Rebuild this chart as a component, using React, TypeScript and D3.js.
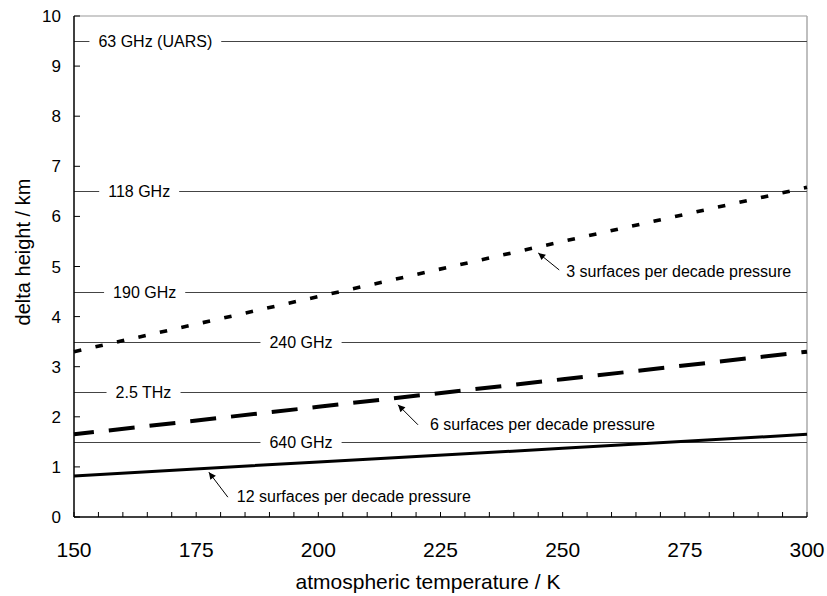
import React from "react";
import * as d3 from "d3";

// Atmospheric temperature (K) and vertical resolution for each sampling density
const temperatures = [150, 200, 250, 300];
const res12 = [0.82, 1.1, 1.37, 1.65];
const res6 = [1.65, 2.2, 2.75, 3.3];
const res3 = [3.3, 4.4, 5.5, 6.58];

// Reference heights for the instrument channels
const refLevels = [9.5, 6.5, 4.5, 3.5, 2.5, 1.5];
const refLabels = ["63 GHz (UARS)", "118 GHz", "190 GHz", "240 GHz", "2.5 THz", "640 GHz"];
const refLabelTemps = [155, 157, 158, 190, 158.5, 190];

const xTicks = [150, 175, 200, 225, 250, 275, 300];
const yTicks = [0, 1, 2, 3, 4, 5, 6, 7, 8, 9, 10];

const seriesNames = [
  "3 surfaces per decade pressure",
  "6 surfaces per decade pressure",
  "12 surfaces per decade pressure",
];
// temperature that each annotation arrow points at
const annotTemps = [245, 216.3, 177.6];

const W = 827;
const H = 596;
const FONT = "'Liberation Sans', Arial, Helvetica, sans-serif";

const x = d3.scaleLinear().domain([150, 300]).range([74, 807]);
const y = d3.scaleLinear().domain([0, 10]).range([517, 16]);

let measureCtx: CanvasRenderingContext2D | null = null;
function textWidth(s: string, size: number) {
  if (!measureCtx) measureCtx = document.createElement("canvas").getContext("2d");
  if (!measureCtx) return s.length * size * 0.5;
  measureCtx.font = `${size}px ${FONT}`;
  return measureCtx.measureText(s).width;
}

export default function App() {
  const line = d3
    .line<number>()
    .x((_, i) => x(temperatures[i]))
    .y((v) => y(v));

  const series = [
    { values: res3, width: 3.6, dash: "7.5,14.5", offset: 0 },
    { values: res6, width: 4, dash: "26,15", offset: 6 },
    { values: res12, width: 3, dash: "", offset: 0 },
  ];

  const interp = (vals: number[], t: number) =>
    d3.scaleLinear().domain(temperatures).range(vals)(t);

  const annotLayout = [
    { tipDy: 6, tail: [21, 17], text: [7, 7] },
    { tipDy: 7, tail: [20, 20], text: [12, 5] },
    { tipDy: 4, tail: [19, 25], text: [9, 5] },
  ];

  const x0 = x(150);
  const x1 = x(300);
  const pad = 9;

  return (
    <svg
      width={W}
      height={H}
      style={{ position: "absolute", left: 0, top: 0, background: "#fff" }}
      fontFamily={FONT}
    >
      <defs>
        <marker
          id="arrowhead"
          viewBox="0 0 10 10"
          refX="10"
          refY="5"
          markerWidth="11"
          markerHeight="7"
          markerUnits="userSpaceOnUse"
          orient="auto"
        >
          <path d="M0,0 L10,5 L0,10 Z" fill="#000" />
        </marker>
      </defs>
      <rect width={W} height={H} fill="#fff" />

      {/* frame: top and right in grey */}
      <line x1={x0} x2={x1} y1={y(10)} y2={y(10)} stroke="#999" strokeWidth={1} />
      <line x1={x1} x2={x1} y1={y(10)} y2={y(0)} stroke="#aaa" strokeWidth={1.5} />

      {/* channel reference lines with inline labels */}
      {refLevels.map((lv, i) => {
        const tx = x(refLabelTemps[i]);
        const tw = textWidth(refLabels[i], 16);
        const yy = Math.round(y(lv)) + 0.5;
        return (
          <g key={refLabels[i]}>
            <line x1={x0} x2={tx - pad} y1={yy} y2={yy} stroke="#444" strokeWidth={1} />
            <line x1={tx + tw + pad} x2={x1} y1={yy} y2={yy} stroke="#444" strokeWidth={1} />
            <text x={tx} y={yy + 5.5} fontSize={16} fill="#000">
              {refLabels[i]}
            </text>
          </g>
        );
      })}

      {/* resolution curves */}
      {series.map((s, i) => (
        <path
          key={i}
          d={line(s.values) || ""}
          fill="none"
          stroke="#000"
          strokeWidth={s.width}
          strokeDasharray={s.dash || undefined}
          strokeDashoffset={s.offset}
        />
      ))}

      {/* annotations */}
      {seriesNames.map((name, i) => {
        const t = annotTemps[i];
        const tipX = x(t);
        const tipY = y(interp(series[i].values, t)) + annotLayout[i].tipDy;
        const tailX = tipX + annotLayout[i].tail[0];
        const tailY = tipY + annotLayout[i].tail[1];
        return (
          <g key={name}>
            <line
              x1={tailX}
              y1={tailY}
              x2={tipX}
              y2={tipY}
              stroke="#000"
              strokeWidth={1}
              markerEnd="url(#arrowhead)"
            />
            <text
              x={tailX + annotLayout[i].text[0]}
              y={tailY + annotLayout[i].text[1]}
              fontSize={16}
              fill="#000"
            >
              {name}
            </text>
          </g>
        );
      })}

      {/* axes */}
      <line x1={x0} x2={x0} y1={y(10)} y2={y(0)} stroke="#000" strokeWidth={1.5} />
      <line x1={x0} x2={x1} y1={y(0)} y2={y(0)} stroke="#000" strokeWidth={1.5} />
      {d3.range(150, 301, 5).map((t) => (
        <line key={t} x1={x(t)} x2={x(t)} y1={y(0)} y2={y(0) - 5} stroke="#000" strokeWidth={1} />
      ))}
      {yTicks.map((v) => (
        <line key={v} x1={x0} x2={x0 + 6} y1={y(v)} y2={y(v)} stroke="#000" strokeWidth={1} />
      ))}
      {xTicks.map((t) => (
        <text key={t} x={x(t)} y={557} fontSize={21} textAnchor="middle" fill="#000">
          {t}
        </text>
      ))}
      {yTicks.map((v) => (
        <text key={v} x={61} y={y(v) + 6} fontSize={17} textAnchor="end" fill="#000">
          {v}
        </text>
      ))}

      <text x={428} y={589} fontSize={21} textAnchor="middle" fill="#000">
        atmospheric temperature / K
      </text>
      <text
        transform={`translate(30, 252) rotate(-90)`}
        fontSize={20}
        textAnchor="middle"
        fill="#000"
      >
        delta height / km
      </text>
    </svg>
  );
}
